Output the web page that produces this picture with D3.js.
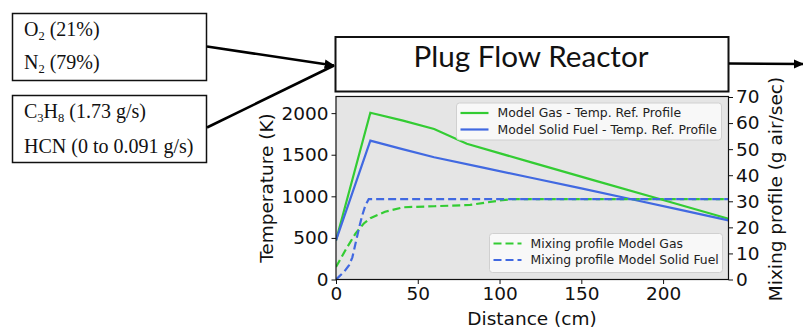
<!DOCTYPE html>
<html>
<head>
<meta charset="utf-8">
<script src="https://cdn.jsdelivr.net/npm/d3@7"></script>
<style>
  body { margin: 0; background: #fff; }
  svg { display: block; }
</style>
</head>
<body>
<div id="container"></div>
<script>
"use strict";

// temperature reference profiles (K) vs distance (cm)
const gasTempX = [0, 21, 41, 60, 80, 120, 160, 200, 240];
const gasTempY = [470, 2005, 1910, 1810, 1631, 1405, 1180, 955, 731];
const solidTempX = [0, 21, 40, 60, 90, 120, 150, 180, 210, 240];
const solidTempY = [470, 1670, 1570, 1470, 1345, 1220, 1095, 968, 840, 711];

// mixing profiles (g air/sec) vs distance (cm)
const gasMixX = [0, 6, 12, 17, 21, 30, 41, 60, 82, 100, 108, 240];
const gasMixY = [4.8, 11.5, 17.7, 21.5, 23.5, 26, 27.7, 28.1, 28.6, 30.3, 30.8, 30.8];
const solidMixX = [0, 2, 5, 8, 10, 12, 14, 16, 18, 20, 240];
const solidMixY = [0, 1.2, 3, 5.5, 8.5, 14, 19.5, 24.5, 28.5, 30.8, 30.8];

const tempTicks = [0, 500, 1000, 1500, 2000];
const mixTicks = [0, 10, 20, 30, 40, 50, 60, 70];
const distTicks = [0, 50, 100, 150, 200];

const legendTop = ["Model Gas - Temp. Ref. Profile", "Model Solid Fuel - Temp. Ref. Profile"];
const legendBottom = ["Mixing profile Model Gas", "Mixing profile Model Solid Fuel"];

const green = "#33cc33";
const blue = "#4169e1";

const W = 803, H = 328;
const svg = d3.select("#container").append("svg")
  .attr("width", W).attr("height", H);

// arrow marker
svg.append("defs").append("marker")
  .attr("id", "head")
  .attr("viewBox", "0 0 10 10")
  .attr("refX", 9).attr("refY", 5)
  .attr("markerWidth", 4).attr("markerHeight", 4)
  .attr("markerUnits", "strokeWidth")
  .attr("orient", "auto")
  .append("path").attr("d", "M0,0.5 L10,5 L0,9.5 Z").attr("fill", "#000");

svg.append("clipPath").attr("id", "plotclip")
  .append("rect").attr("x", 336).attr("y", 96.5).attr("width", 392.5).attr("height", 183);

// ---- left input boxes ----
const serif = "'Liberation Serif', 'Times New Roman', serif";
function subText(g, x, y, parts) {
  const t = g.append("text").attr("x", x).attr("y", y)
    .attr("font-family", serif).attr("font-size", 20).attr("fill", "#111");
  let shift = 0;
  parts.forEach(p => {
    if (p.sub) {
      t.append("tspan").attr("font-size", 12.5).attr("dy", 4 - shift).text(p.sub);
      shift = 4;
    } else {
      t.append("tspan").attr("dy", -shift).text(p.t);
      shift = 0;
    }
  });
}

const boxes = svg.append("g");
boxes.append("rect").attr("x", 12.5).attr("y", 13.5).attr("width", 194).attr("height", 67)
  .attr("fill", "#fff").attr("stroke", "#111").attr("stroke-width", 1.5);
boxes.append("rect").attr("x", 12.5).attr("y", 95.5).attr("width", 194).attr("height", 67)
  .attr("fill", "#fff").attr("stroke", "#111").attr("stroke-width", 1.5);

subText(boxes, 24, 36, [{t: "O"}, {sub: "2"}, {t: " (21%)"}]);
subText(boxes, 24, 69, [{t: "N"}, {sub: "2"}, {t: " (79%)"}]);
subText(boxes, 24, 118, [{t: "C"}, {sub: "3"}, {t: "H"}, {sub: "8"}, {t: " (1.73 g/s)"}]);
subText(boxes, 24, 152.5, [{t: "HCN (0 to 0.091 g/s)"}]);

// arrows into reactor
svg.append("line").attr("x1", 207).attr("y1", 46.5).attr("x2", 334).attr("y2", 65.5)
  .attr("stroke", "#000").attr("stroke-width", 2.6).attr("marker-end", "url(#head)");
svg.append("line").attr("x1", 207).attr("y1", 127.5).attr("x2", 334).attr("y2", 65.5)
  .attr("stroke", "#000").attr("stroke-width", 2.6);

// reactor box
svg.append("rect").attr("x", 335.5).attr("y", 37).attr("width", 393).attr("height", 54.5)
  .attr("fill", "#fff").attr("stroke", "#111").attr("stroke-width", 2);
svg.append("text").attr("x", 531).attr("y", 67)
  .attr("text-anchor", "middle")
  .attr("font-family", "Lato, 'Open Sans', sans-serif").attr("font-size", 29)
  .attr("textLength", 235).attr("lengthAdjust", "spacingAndGlyphs")
  .attr("fill", "#111").text("Plug Flow Reactor");

// output arrow
svg.append("line").attr("x1", 729).attr("y1", 63.5).attr("x2", 803).attr("y2", 64)
  .attr("stroke", "#000").attr("stroke-width", 2.6).attr("marker-end", "url(#head)");

// ---- chart ----
const x = d3.scaleLinear().domain([0, 240]).range([336, 728.5]);
const yT = d3.scaleLinear().domain([0, 2200]).range([279.5, 96.5]);
const yM = d3.scaleLinear().domain([0, 70]).range([279.5, 97]);

const plot = svg.append("g");
plot.append("rect").attr("x", 336).attr("y", 96.5).attr("width", 392.5).attr("height", 183)
  .attr("fill", "#e5e5e5");

const sans = "'DejaVu Sans', sans-serif";

const lineT = d3.line().x(d => x(d[0])).y(d => yT(d[1]));
const lineM = d3.line().x(d => x(d[0])).y(d => yM(d[1]));
const zip = (a, b) => a.map((v, i) => [v, b[i]]);

const lines = plot.append("g").attr("clip-path", "url(#plotclip)");
lines.append("path").attr("d", lineT(zip(gasTempX, gasTempY)))
  .attr("fill", "none").attr("stroke", green).attr("stroke-width", 2.2);
lines.append("path").attr("d", lineT(zip(solidTempX, solidTempY)))
  .attr("fill", "none").attr("stroke", blue).attr("stroke-width", 2.2);
lines.append("path").attr("d", lineM(zip(gasMixX, gasMixY)))
  .attr("fill", "none").attr("stroke", green).attr("stroke-width", 2.2)
  .attr("stroke-dasharray", "8,4");
lines.append("path").attr("d", lineM(zip(solidMixX, solidMixY)))
  .attr("fill", "none").attr("stroke", blue).attr("stroke-width", 2.2)
  .attr("stroke-dasharray", "8,4");

// axes
function styleAxis(g) {
  g.select(".domain").remove();
  g.selectAll("text").attr("font-family", sans).attr("font-size", 18.5).attr("fill", "#111");
  g.selectAll("line").attr("stroke", "#111");
}
const fmt = d3.format("d");
plot.append("g").attr("transform", "translate(336,0)")
  .call(d3.axisLeft(yT).tickValues(tempTicks).tickFormat(fmt).tickSize(4.5).tickPadding(3))
  .call(styleAxis);
plot.append("g").attr("transform", "translate(728.5,0)")
  .call(d3.axisRight(yM).tickValues(mixTicks).tickFormat(fmt).tickSize(4.5).tickPadding(3))
  .call(styleAxis);
plot.append("g").attr("transform", "translate(0,279.5)")
  .call(d3.axisBottom(x).tickValues(distTicks).tickFormat(fmt).tickSize(4.5).tickPadding(3))
  .call(styleAxis);

plot.append("rect").attr("x", 336).attr("y", 96.5).attr("width", 392.5).attr("height", 183)
  .attr("fill", "none").attr("stroke", "#111").attr("stroke-width", 1.2);

// axis labels
plot.append("text").attr("x", 532).attr("y", 325)
  .attr("text-anchor", "middle").attr("font-family", sans).attr("font-size", 18.5)
  .attr("fill", "#111").text("Distance (cm)");
plot.append("text").attr("transform", "translate(273,188) rotate(-90)")
  .attr("text-anchor", "middle").attr("font-family", sans).attr("font-size", 18.5)
  .attr("fill", "#111").text("Temperature (K)");
plot.append("text").attr("transform", "translate(782,189) rotate(-90)")
  .attr("text-anchor", "middle").attr("font-family", sans).attr("font-size", 18.5)
  .attr("fill", "#111").text("Mixing profile (g air/sec)");

// legends
function legend(x0, y0, w, h, labels, colors, dashed) {
  const g = plot.append("g");
  g.append("rect").attr("x", x0).attr("y", y0).attr("width", w).attr("height", h)
    .attr("rx", 3).attr("fill", "#fafafa").attr("fill-opacity", 0.9)
    .attr("stroke", "#d0d0d0").attr("stroke-width", 1);
  labels.forEach((lab, i) => {
    const cy = y0 + 10 + i * 16.5;
    g.append("line").attr("x1", x0 + 4).attr("x2", x0 + 32).attr("y1", cy).attr("y2", cy)
      .attr("stroke", colors[i]).attr("stroke-width", 2.2)
      .attr("stroke-dasharray", dashed ? "8,4" : null);
    g.append("text").attr("x", x0 + 41).attr("y", cy + 4.4)
      .attr("font-family", sans).attr("font-size", 12.4).attr("fill", "#222").text(lab);
  });
}
legend(456.5, 103, 265, 37, legendTop, [green, blue], false);
legend(489.5, 233.5, 233, 39, legendBottom, [green, blue], true);
</script>
</body>
</html>
